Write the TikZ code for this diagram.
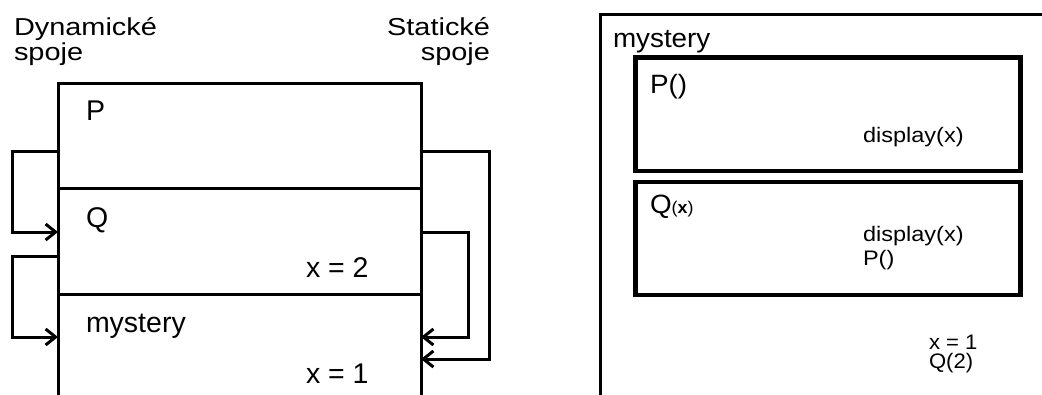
\documentclass[tikz,border=0pt]{standalone}
\usepackage{fontspec}
\setmainfont{Liberation Sans}
\newfontfamily\headfont[FakeStretch=1.18]{Liberation Sans}
\newfontfamily\labelfont[FakeStretch=1.05]{Liberation Sans}
\newfontfamily\codefont[FakeStretch=1.12]{Liberation Sans}
\usetikzlibrary{arrows.meta}
\begin{document}
\begin{tikzpicture}[x=1pt,y=-1pt,
  stackbox/.style={draw,rectangle,line width=3pt,anchor=north west,inner sep=0pt,outer sep=0pt},
  nestbox/.style={draw,rectangle,line width=4.5pt,anchor=north west,inner sep=0pt,outer sep=0pt},
  txt/.style={anchor=base west,inner sep=0pt,outer sep=0pt},
  headtxt/.style={font=\headfont\fontsize{24.5}{25}\selectfont},
  bigtxt/.style={font=\fontsize{28.5}{30}\selectfont},
  nametxt/.style={font=\labelfont\fontsize{26.5}{28}\selectfont},
  codetxt/.style={font=\codefont\fontsize{21}{22}\selectfont},
  notetxt/.style={font=\labelfont\fontsize{21}{22}\selectfont},
  link/.style={line width=3pt,line join=miter,-{Straight Barb[length=10pt,width=16pt]}}
]
\useasboundingbox (0,0) rectangle (1042,394);
\clip (0,0) rectangle (1042,394);

% ---- call stack ----
\node[stackbox,minimum width=363pt,minimum height=105.5pt] (fP) at (58,83) {};
\node[stackbox,minimum width=363pt,minimum height=105.5pt] (fQ) at (58,188.5) {};
\node[stackbox,minimum width=363pt,minimum height=140pt] (fM) at (58,294) {};

\node[txt,headtxt] (hd1) at (14,35) {Dynamické};
\node[txt,headtxt] (hd2) at (14,60) {spoje};
\node[txt,headtxt,anchor=base east] (hs1) at (490,35) {Statické};
\node[txt,headtxt,anchor=base east] (hs2) at (490,60) {spoje};

\node[txt,bigtxt] (tP) at (86,120) {P};
\node[txt,bigtxt] (tQ) at (86,227) {Q};
\node[txt,bigtxt] (tM) at (86,332) {mystery};
\node[txt,bigtxt] (tx2) at (306,277) {x = 2};
\node[txt,bigtxt] (tx1) at (306,383) {x = 1};

% dynamic links (left side)
\coordinate (dPo) at (58,151);
\coordinate (dQi) at (58,232);
\coordinate (dQo) at (58,256);
\coordinate (dMi) at (58,337);
\draw[link] (dPo) -- (12,151) -- (12,232) -- (dQi);
\draw[link] (dQo) -- (12,256) -- (12,337) -- (dMi);

% static links (right side)
\coordinate (sPo) at (421,151);
\coordinate (sQo) at (421,232);
\coordinate (sMi1) at (421,337);
\coordinate (sMi2) at (421,359);
\draw[link] (sQo) -- (468,232) -- (468,337) -- (sMi1);
\draw[link] (sPo) -- (489,151) -- (489,359) -- (sMi2);

% ---- nested scopes ----
\node[stackbox,minimum width=480pt,minimum height=420pt] (oM) at (600.5,14.5) {};
\node[nestbox,minimum width=385pt,minimum height=113.5pt] (sP) at (635.5,57.3) {};
\node[nestbox,minimum width=385pt,minimum height=113pt] (sQ) at (635.5,182) {};

\node[txt,nametxt] (lM) at (613,47) {mystery};
\node[txt,nametxt] (lP) at (650,93) {P()};
\node[txt,codetxt] (lPd) at (863,142) {display(x)};
\node[txt,nametxt] (lQ) at (650,213) {Q{\labelfont\fontsize{17}{18}\selectfont(\textbf{x})}};
\node[txt,codetxt] (lQd) at (863,241) {display(x)};
\node[txt,codetxt] (lQp) at (863,265) {P()};
\node[txt,notetxt] (lMx) at (929,349) {x = 1};
\node[txt,notetxt] (lMq) at (929,368) {Q(2)};
\end{tikzpicture}
\end{document}
